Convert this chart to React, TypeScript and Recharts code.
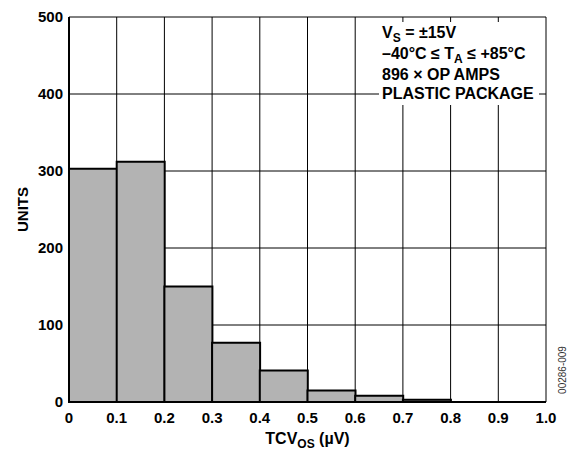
import { ComposedChart, Bar, XAxis, YAxis, CartesianGrid } from "recharts";

// histogram bins of TCVos (µV)
const bins = ["0-0.1", "0.1-0.2", "0.2-0.3", "0.3-0.4", "0.4-0.5", "0.5-0.6", "0.6-0.7", "0.7-0.8", "0.8-0.9", "0.9-1.0"];
const binStart = [0, 0.1, 0.2, 0.3, 0.4, 0.5, 0.6, 0.7, 0.8, 0.9];
const units = [303, 312, 150, 77, 41, 15, 8, 3, 0, 0];
const xTicks = [0, 0.1, 0.2, 0.3, 0.4, 0.5, 0.6, 0.7, 0.8, 0.9, 1.0];
const yTicks = [0, 100, 200, 300, 400, 500];

const data = bins.map((bin, i) => ({ bin, start: binStart[i], units: units[i] }));

const FONT = "'Liberation Sans', Arial, Helvetica, sans-serif";
const tickStyle = { fill: "#000", fontSize: 15, fontWeight: 700, fontFamily: FONT };

const XLabel = (props: any) => {
  const vb = props.viewBox;
  return (
    <text x={vb.x + vb.width / 2} y={vb.y + 42} textAnchor="middle" fontFamily={FONT} fontWeight={700} fontSize={16} fill="#000">
      TCV<tspan dy={4} fontSize={12}>OS</tspan>
      <tspan dy={-4}> (µV)</tspan>
    </text>
  );
};

const YLabel = (props: any) => {
  const vb = props.viewBox;
  const cx = 22;
  const cy = vb.y + vb.height / 2;
  return (
    <text x={cx} y={cy} transform={`rotate(-90 ${cx} ${cy})`} textAnchor="middle" dominantBaseline="central" fontFamily={FONT} fontWeight={700} fontSize={15} fill="#000">
      UNITS
    </text>
  );
};

const sub = { fontSize: 12, position: "relative" as const, top: 4 };

export default function App() {
  return (
    <div style={{ position: "absolute", left: 0, top: 0, width: 575, height: 452, background: "#fff" }}>
      <ComposedChart
        width={575}
        height={452}
        data={data}
        margin={{ top: 17, right: 29, left: 9, bottom: 0 }}
        barCategoryGap={0}
        barGap={0}
      >
        <CartesianGrid xAxisId="num" stroke="#000" strokeWidth={1} verticalValues={xTicks} horizontalValues={yTicks} />
        <XAxis xAxisId="cat" dataKey="bin" orientation="top" height={0} hide />
        <XAxis
          xAxisId="num"
          type="number"
          dataKey="start"
          domain={[0, 1]}
          allowDataOverflow
          ticks={xTicks}
          interval={0}
          tickFormatter={(v: number) => (v === 0 ? "0" : v.toFixed(1))}
          tick={tickStyle}
          tickLine={false}
          tickSize={8}
          axisLine={{ stroke: "#000", strokeWidth: 2 }}
          height={50}
          label={<XLabel />}
        />
        <YAxis
          domain={[0, 500]}
          ticks={yTicks}
          interval={0}
          tick={tickStyle}
          tickLine={false}
          tickSize={4}
          axisLine={{ stroke: "#000", strokeWidth: 2 }}
          width={60}
          label={<YLabel />}
        />
        <Bar xAxisId="cat" dataKey="units" fill="#b3b3b3" stroke="#000" strokeWidth={2} isAnimationActive={false} />
      </ComposedChart>
      <div
        style={{
          position: "absolute",
          left: 379,
          top: 22,
          width: 160,
          height: 83,
          background: "#fff",
          boxSizing: "border-box",
          padding: "1px 0 0 3px",
          fontFamily: FONT,
          fontWeight: 700,
          fontSize: 16,
          lineHeight: "19px",
          color: "#000",
          whiteSpace: "nowrap",
        }}
      >
        <div>
          V<span style={sub}>S</span> = ±15V
        </div>
        <div>
          –40°C ≤ T<span style={sub}>A</span> ≤ +85°C
        </div>
        <div>896 × OP AMPS</div>
        <div>PLASTIC PACKAGE</div>
      </div>
      <div
        style={{
          position: "absolute",
          left: 562,
          top: 370,
          transform: "translate(-50%, -50%) rotate(-90deg)",
          fontFamily: FONT,
          fontSize: 10,
          color: "#333",
          whiteSpace: "nowrap",
        }}
      >
        00286-009
      </div>
    </div>
  );
}
